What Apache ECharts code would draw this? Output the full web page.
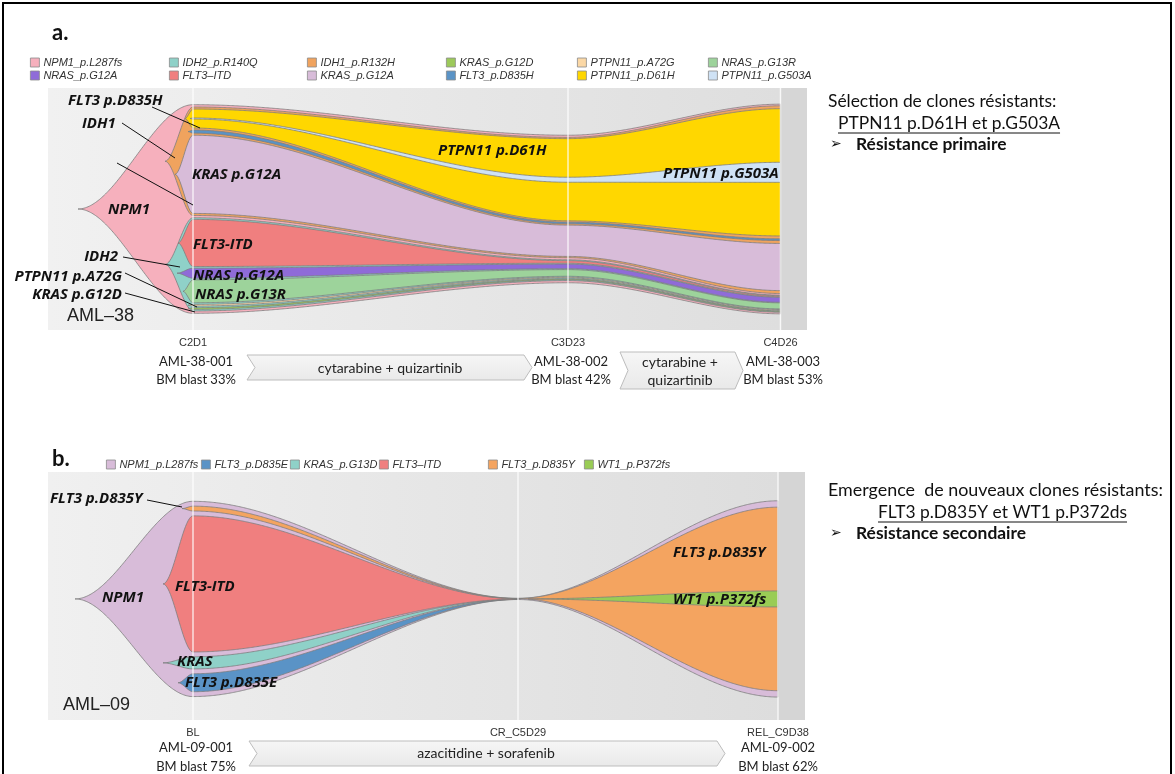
<!DOCTYPE html>
<html><head><meta charset="utf-8">
<script src="https://cdn.jsdelivr.net/npm/echarts@6/dist/echarts.min.js"></script>
<style>html,body{margin:0;padding:0;background:#fff;}#c{width:1175px;height:774px;}</style>
</head><body><div id="c"></div>
<script>
// ================= DATA =================
// Panel a (AML-38) - time positions (relative units) and labels
const timeLabelsA = ['C2D1', 'C3D23', 'C4D26'];
const timesA = [0, 75, 117.5];
const clonesA = ['NPM1_p.L287fs', 'IDH2_p.R140Q', 'IDH1_p.R132H', 'KRAS_p.G12D', 'PTPN11_p.A72G', 'NRAS_p.G13R',
                 'NRAS_p.G12A', 'FLT3–ITD', 'KRAS_p.G12A', 'FLT3_p.D835H', 'PTPN11_p.D61H', 'PTPN11_p.G503A'];
const parentsA = [-1, 0, 0, 1, 1, 1, 1, 1, 2, 2, 2, 10];
const colorsA = ['#f6b0bd', '#8fd1c8', '#f0a35e', '#9cc95a', '#fbd8a6', '#9dd39b',
                 '#8f6bd8', '#f07f7f', '#d8bcd9', '#5a93c6', '#ffd700', '#cfe2f5'];
const startA = [-23, -5.6, -5.6, -1, -1, -2, -3.2, -3, -3.6, -1, -1.6, -0.6];
const fracA_C2D1  = [100, 44.7, 52, 0.8, 0.8, 11, 4.8, 22.6, 37.5, 1.5, 9.1, 0.5];
const fracA_C3D23 = [70.7, 10, 57.7, 0.4, 0.4, 3.2, 2.2, 1.2, 15, 0.8, 39.4, 2.4];
const fracA_C4D26 = [100.5, 8.2, 90, 0.4, 0.4, 2.9, 2.4, 0.5, 22.6, 0.8, 61, 9.6];

// Panel b (AML-09)
const timeLabelsB = ['BL', 'CR_C5D29', 'REL_C9D38'];
const timesB = [0, 65, 117];
const clonesB = ['NPM1_p.L287fs', 'FLT3_p.D835E', 'KRAS_p.G13D', 'FLT3–ITD', 'FLT3_p.D835Y', 'WT1_p.P372fs'];
const parentsB = [-1, 0, 0, 0, 0, 4];
const colorsB = ['#d8bcd9', '#5a93c6', '#8fd1c8', '#f07f7f', '#f4a460', '#99cc55'];
const startB = [-23.6, -3, -6, -6, -2.2, 67];
const fracB_BL  = [100, 9.2, 6.2, 69.7, 2.5, 0];
const fracB_CR  = [0.6, 0.05, 0.05, 0.2, 0.1, 0];
const fracB_REL = [100.5, 0, 0, 0, 94, 8.2];

// ================= LAYOUT (fishplot-like nesting) =================
const ss = u => u <= 0 ? 0 : (u >= 1 ? 1 : u * u * (3 - 2 * u));
function layoutAt(fr, parents) {
  const n = fr.length, top = new Array(n).fill(null), bot = new Array(n).fill(null);
  for (let c = 0; c < n; c++) if (parents[c] === -1 && fr[c] > 0) { bot[c] = -fr[c] / 2; top[c] = fr[c] / 2; }
  for (let p = 0; p < n; p++) {
    if (top[p] === null) continue;
    const kids = [];
    for (let c = 0; c < n; c++) if (parents[c] === p && fr[c] > 0) kids.push(c);
    if (!kids.length) continue;
    const sum = kids.reduce((s, c) => s + fr[c], 0);
    const sp = (fr[p] - sum) / (kids.length + 1);
    let y = bot[p] + sp;
    kids.forEach(c => { bot[c] = y; top[c] = y + fr[c]; y = top[c] + sp; });
  }
  return { top, bot };
}
function buildFish(times, fracs, parents, starts) {
  const lays = fracs.map(f => layoutAt(f, parents));
  const n = parents.length;
  function raw(c, x) {
    const k0 = fracs.findIndex(f => f[c] > 0);
    const s = starts[c];
    if (k0 < 0 || x < s) return null;
    if (x <= times[k0]) {
      const L = lays[k0], mid = (L.top[c] + L.bot[c]) / 2;
      const u = ss((x - s) / (times[k0] - s));
      return [mid + u * (L.bot[c] - mid), mid + u * (L.top[c] - mid)];
    }
    for (let k = k0; k < times.length - 1; k++) {
      if (x <= times[k + 1] + 1e-9) {
        const A = lays[k], B = lays[k + 1];
        if (B.top[c] === null) return null;
        const u = ss((x - times[k]) / (times[k + 1] - times[k]));
        return [A.bot[c] + u * (B.bot[c] - A.bot[c]), A.top[c] + u * (B.top[c] - A.top[c])];
      }
    }
    return null;
  }
  function pos(c, x) {
    const r = raw(c, x); if (!r) return null;
    const p = parents[c];
    if (p >= 0) {
      const q = pos(p, x); if (!q) return null;
      r[0] = Math.max(r[0], q[0]); r[1] = Math.min(r[1], q[1]);
      if (r[1] < r[0]) { const m = (r[0] + r[1]) / 2; r[0] = r[1] = m; }
    }
    return r;
  }
  const end = times[times.length - 1];
  const polys = [];
  for (let c = 0; c < n; c++) {
    const xs = [];
    for (let x = starts[c]; x < end; x += 0.25) xs.push(x);
    xs.push(end);
    times.forEach(t => { if (t > starts[c]) xs.push(t); });
    xs.sort((a, b) => a - b);
    const topPts = [], botPts = [];
    xs.forEach(x => { const r = pos(c, x); if (r) { topPts.push([x, r[1]]); botPts.push([x, r[0]]); } });
    polys.push(topPts.concat(botPts.reverse()));
  }
  return polys;
}
const polysA = buildFish(timesA, [fracA_C2D1, fracA_C3D23, fracA_C4D26], parentsA, startA);
const polysB = buildFish(timesB, [fracB_BL, fracB_CR, fracB_REL], parentsB, startB);

// ================= CHART =================
const chart = echarts.init(document.getElementById('c'));
const XA = [-29, 122.8], XB = [-29, 122.4], YA = [-58, 58], YB = [-62, 65];

function fishSeries(name, color, poly, gi) {
  return {
    type: 'custom', name, xAxisIndex: gi, yAxisIndex: gi, data: [[0, 0]], z: 3,
    itemStyle: { color }, silent: true, clip: false,
    renderItem: (params, api) => ({
      type: 'polygon', shape: { points: poly.map(p => api.coord(p)) },
      style: { fill: color, stroke: '#7d7d7d', lineWidth: 0.8 }
    })
  };
}
function bgSeries(gi, X, Y, times, c0, c1, cStrip) {
  const last = times[times.length - 1];
  return {
    type: 'custom', xAxisIndex: gi, yAxisIndex: gi, silent: true, z: 1,
    data: [[X[0], last, 0], [last, X[1], 1]],
    renderItem: (params, api) => {
      const a = api.coord([api.value(0), Y[1]]), b = api.coord([api.value(1), Y[0]]);
      const fill = api.value(2) === 0
        ? new echarts.graphic.LinearGradient(0, 0, 1, 0, [{ offset: 0, color: c0 }, { offset: 1, color: c1 }])
        : cStrip;
      return { type: 'rect', shape: { x: a[0], y: a[1], width: b[0] - a[0], height: b[1] - a[1] }, style: { fill } };
    }
  };
}
function vlineSeries(gi, Y, times) {
  return {
    type: 'custom', xAxisIndex: gi, yAxisIndex: gi, silent: true, z: 5,
    data: times.map(t => [t]),
    renderItem: (params, api) => {
      const a = api.coord([api.value(0), Y[1]]), b = api.coord([api.value(0), Y[0]]);
      return { type: 'line', shape: { x1: a[0], y1: a[1], x2: b[0], y2: b[1] }, style: { stroke: 'rgba(255,255,255,0.75)', lineWidth: 1.5 } };
    }
  };
}

const series = [bgSeries(0, XA, YA, timesA, '#f1f1f1', '#dedede', '#d6d6d6'),
                bgSeries(1, XB, YB, timesB, '#f0f0f0', '#dddddd', '#d5d5d5')];
clonesA.forEach((nm, i) => series.push(fishSeries(nm, colorsA[i], polysA[i], 0)));
clonesB.forEach((nm, i) => series.push(fishSeries(nm, colorsB[i], polysB[i], 1)));
series.push(vlineSeries(0, YA, timesA), vlineSeries(1, YB, timesB));

// legends: one per item for exact column placement
const legCommon = {
  itemWidth: 9, itemHeight: 9, itemGap: 0, icon: 'rect', padding: 0, selectedMode: false,
  textStyle: { fontFamily: 'Liberation Sans', fontStyle: 'italic', fontSize: 11, color: '#333', padding: [0, 0, 0, -1] },
  itemStyle: { borderColor: '#8a8a8a', borderWidth: 0.8 }
};
const legends = [];
const colXA = [30, 169, 307, 446, 577, 708], rowYA = [57, 70];
clonesA.forEach((nm, i) => legends.push(Object.assign({}, legCommon, {
  left: colXA[i % 6], top: rowYA[Math.floor(i / 6)], data: [{ name: nm, itemStyle: { color: colorsA[i] } }]
})));
const colXB = [106, 201, 290, 379, 488, 584];
clonesB.forEach((nm, i) => legends.push(Object.assign({}, legCommon, {
  left: colXB[i], top: 459, data: [{ name: nm, itemStyle: { color: colorsB[i] } }]
})));

function xAxisDef(gi, X, times, labels) {
  return {
    type: 'value', gridIndex: gi, min: X[0], max: X[1],
    axisLine: { show: false }, axisTick: { show: false }, splitLine: { show: false },
    axisLabel: { customValues: times, formatter: v => labels[times.indexOf(v)] || '', fontFamily: 'Liberation Sans', fontSize: 11, color: '#333', margin: 7 }
  };
}

// ================= ANNOTATIONS =================
const G = [];
const fishFont = 'italic bold 15px "Open Sans"';
function txt(text, x, y, font, align, fill) {
  G.push({ type: 'text', x, y, z: 50, style: { text, font, fill: fill || '#111', align: align || 'left', verticalAlign: 'middle' } });
}
function ln(x1, y1, x2, y2, w, c) {
  G.push({ type: 'line', z: 50, shape: { x1, y1, x2, y2 }, style: { stroke: c || '#111', lineWidth: w || 1 } });
}
const mctx = document.createElement('canvas').getContext('2d');
function tw(text, font) { mctx.font = font; return mctx.measureText(text).width; }
function fitSize(text, weight, family, target) {
  return Math.round(100 * target / tw(text, weight + ' 100px ' + family) * 10) / 10;
}

// frame
G.push({ type: 'rect', z: 60, shape: { x: 3, y: 3, width: 1168, height: 790 }, style: { fill: 'none', stroke: '#000', lineWidth: 2 } });
txt('a.', 52, 33, 'bold 22px Lato');
txt('b.', 52, 459, 'bold 22px Lato');

// fish labels
[['FLT3 p.D835H', 68, 101, 'left'], ['IDH1', 82, 124, 'left'], ['KRAS p.G12A', 192, 175, 'left'],
 ['NPM1', 108, 210, 'left'], ['FLT3-ITD', 193, 245, 'left'], ['IDH2', 118, 257, 'right'],
 ['NRAS p.G12A', 193, 276, 'left'], ['PTPN11 p.A72G', 122, 277, 'right'], ['NRAS p.G13R', 195, 295, 'left'],
 ['KRAS p.G12D', 122, 295, 'right'], ['PTPN11 p.D61H', 438, 151, 'left'], ['PTPN11 p.G503A', 663, 174, 'left'],
 ['FLT3 p.D835Y', 50, 499, 'left'], ['NPM1', 102, 598, 'left'], ['FLT3-ITD', 175, 587, 'left'],
 ['KRAS', 177, 662, 'left'], ['FLT3 p.D835E', 185, 683, 'left'], ['FLT3 p.D835Y', 673, 553, 'left'],
 ['WT1 p.P372fs', 673, 600, 'left']].forEach(l => txt(l[0], l[1], l[2], fishFont, l[3]));
// leader lines
ln(152, 107, 200, 128); ln(122, 123, 175, 158); ln(117, 163, 193, 205);
ln(123, 257, 180, 267); ln(125, 273, 197, 307); ln(125, 293, 195, 312);
ln(147, 500, 182, 507);
txt('AML–38', 67, 316, '18px "Liberation Sans"', 'left', '#222');
txt('AML–09', 63, 705, '18px "Liberation Sans"', 'left', '#222');

// bottom annotations
const annFont = '13px Lato';
[['AML-38-001', 'BM blast 33%', 196, 362, 380], ['AML-38-002', 'BM blast 42%', 571, 362, 380], ['AML-38-003', 'BM blast 53%', 783, 362, 380],
 ['AML-09-001', 'BM blast 75%', 196, 748, 767], ['AML-09-002', 'BM blast 62%', 778, 748, 767]].forEach(a => {
  txt(a[0], a[2], a[3], annFont, 'center', '#222'); txt(a[1], a[2], a[4], annFont, 'center', '#222');
});
function chevron(x0, x1, y0, y1, d) {
  const ym = (y0 + y1) / 2;
  G.push({ type: 'polygon', z: 40, shape: { points: [[x0, y0], [x1, y0], [x1 + d, ym], [x1, y1], [x0, y1], [x0 + d, ym]] },
    style: { fill: new echarts.graphic.LinearGradient(0, 0, 0, 1, [{ offset: 0, color: '#f6f6f6' }, { offset: 1, color: '#e9e9e9' }]), stroke: '#bdbdbd', lineWidth: 1 } });
}
const chevFont = '14px Lato';
chevron(247, 524, 355, 380, 8); txt('cytarabine + quizartinib', 390, 368, chevFont, 'center', '#222');
chevron(620, 735, 352, 389, 8); txt('cytarabine +', 680, 362, chevFont, 'center', '#222'); txt('quizartinib', 680, 380, chevFont, 'center', '#222');
chevron(249, 717, 741, 766, 8); txt('azacitidine + sorafenib', 486, 753, chevFont, 'center', '#222');

// right-side comments
const sA = fitSize('Sélection de clones résistants:', 'normal', 'Lato', 228);
const rFont = sA + 'px Lato', rBold = 'bold ' + sA + 'px Lato';
const sB = fitSize('Emergence  de nouveaux clones résistants:', 'normal', 'Lato', 336);
function under(text, x, y, font) { txt(text, x, y, font, 'left', '#111'); const w = tw(text, font); ln(x, y + 10, x + w, y + 10, 1, '#111'); }
txt('Sélection de clones résistants:', 828, 101, rFont, 'left', '#111');
under('PTPN11 p.D61H et p.G503A', 838, 123, rFont);
txt('➢', 830, 144, '14px "DejaVu Sans"', 'left', '#111');
txt('Résistance primaire', 856, 144, rBold, 'left', '#111');
txt('Emergence  de nouveaux clones résistants:', 828, 490, sB + 'px Lato', 'left', '#111');
under('FLT3 p.D835Y et WT1 p.P372ds', 878, 512, rFont);
txt('➢', 830, 533, '14px "DejaVu Sans"', 'left', '#111');
txt('Résistance secondaire', 856, 533, rBold, 'left', '#111');

chart.setOption({
  animation: false, backgroundColor: '#fff',
  grid: [{ left: 48, top: 88, width: 759, height: 242 }, { left: 48, top: 472, width: 757, height: 248 }],
  xAxis: [xAxisDef(0, XA, timesA, timeLabelsA), xAxisDef(1, XB, timesB, timeLabelsB)],
  yAxis: [{ type: 'value', gridIndex: 0, min: YA[0], max: YA[1], show: false },
          { type: 'value', gridIndex: 1, min: YB[0], max: YB[1], show: false }],
  legend: legends,
  series,
  graphic: G
});
</script></body></html>
